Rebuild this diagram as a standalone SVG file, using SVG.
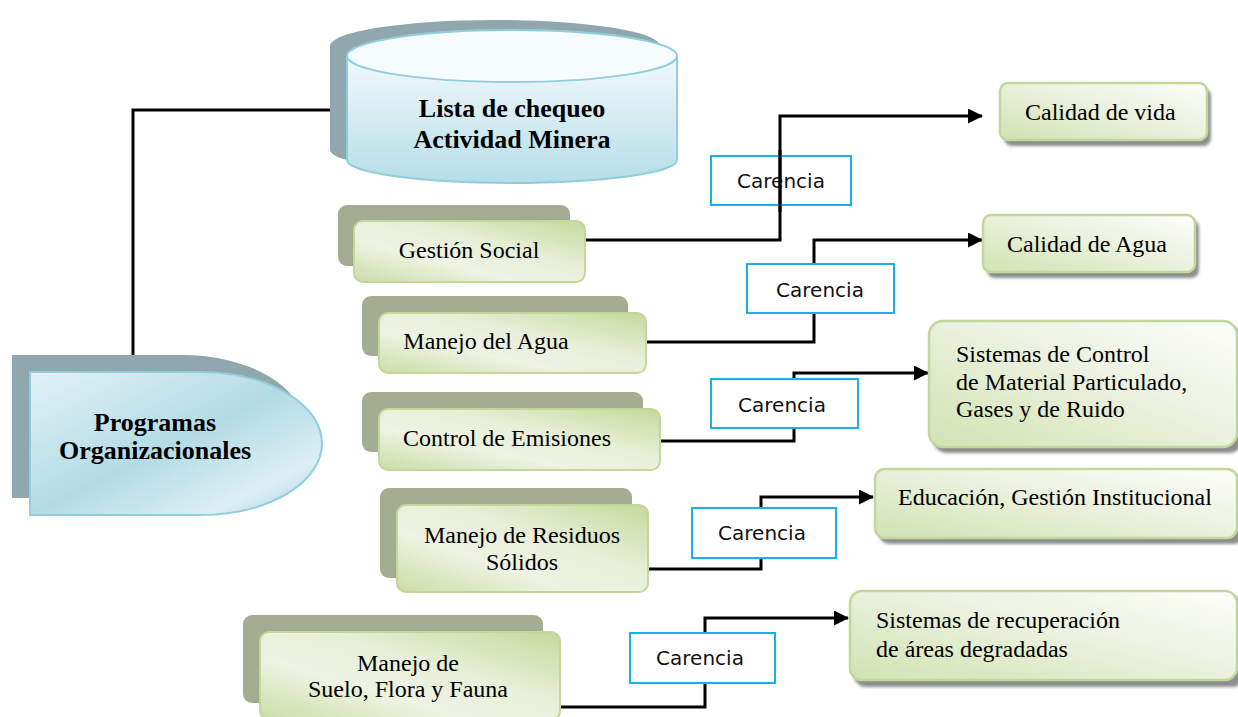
<svg xmlns="http://www.w3.org/2000/svg" width="1238" height="717" viewBox="0 0 1238 717">
<defs>
<style>
.serif{font-family:"Liberation Serif","Times New Roman",serif;font-size:24px;fill:#000}
.bold{font-weight:bold;font-size:26px}
.car{font-family:"DejaVu Sans","Liberation Sans",sans-serif;font-size:20px;fill:#111}
.conn{fill:none;stroke:#000;stroke-width:3}
.cbox{stroke:#1AB0EA;stroke-width:2}
.lshadow{fill:#A4AD91}
.lbox{fill:url(#gLeft);stroke:#C3D69B;stroke-width:2}
.rbox{fill:url(#gRight);stroke:#C3D69B;stroke-width:2.5}
.rshadow{fill:#8E8E8E;filter:url(#blur)}
.bshadow{fill:#8FA7AD}
.blue{fill:url(#gBlue);stroke:#92CDDC;stroke-width:2}
</style>
<linearGradient id="gLeft" x1="0" y1="1" x2="1" y2="0">
<stop offset="0" stop-color="#CBDCA6"/>
<stop offset="0.35" stop-color="#EEF3E2"/>
<stop offset="0.6" stop-color="#E8EFD8"/>
<stop offset="1" stop-color="#C5D99A"/>
</linearGradient>
<linearGradient id="gRight" x1="0" y1="1" x2="1" y2="0">
<stop offset="0" stop-color="#D2E2B2"/>
<stop offset="0.6" stop-color="#EEF3E3"/>
<stop offset="1" stop-color="#FCFDF9"/>
</linearGradient>
<linearGradient id="gBlue" x1="0" y1="0" x2="0" y2="1">
<stop offset="0" stop-color="#FFFFFF"/>
<stop offset="1" stop-color="#B5DDE7"/>
</linearGradient>
<linearGradient id="gBlue2" x1="0" y1="0" x2="1" y2="1">
<stop offset="0" stop-color="#E2F1F7"/>
<stop offset="0.5" stop-color="#B3DBE6"/>
<stop offset="0.8" stop-color="#DCEEF4"/>
<stop offset="1" stop-color="#A9D5E2"/>
</linearGradient>
<filter id="blur" x="-10%" y="-10%" width="120%" height="130%">
<feGaussianBlur stdDeviation="1.5"/>
</filter>
<marker id="arr" markerUnits="userSpaceOnUse" markerWidth="15" markerHeight="15" viewBox="0 0 15 15" refX="14" refY="7.5" orient="auto">
<path d="M0,0 L15,7.5 L0,15 Z" fill="#000"/>
</marker>
</defs>
<rect width="1238" height="717" fill="#fff"/>

<g id="connectors">
<polyline class="conn" points="133,355 133,110 338,110"/>
<polyline class="conn" points="586,240 780,240 780,116 982,116" marker-end="url(#arr)"/>
<polyline class="conn" points="646,342 814,342 814,240 982,240" marker-end="url(#arr)"/>
<polyline class="conn" points="660,441 794,441 794,373 928,373" marker-end="url(#arr)"/>
<polyline class="conn" points="648,569 761,569 761,497 873,497" marker-end="url(#arr)"/>
<polyline class="conn" points="558,707 705,707 705,618 848,618" marker-end="url(#arr)"/>
</g>

<g id="carencia1">
<rect class="cbox" x="711" y="156" width="140" height="49" fill="none"/>
<text class="car" x="781" y="188" text-anchor="middle">Carencia</text>
<line x1="780" y1="150" x2="780" y2="212" stroke="#000" stroke-width="3"/>
</g>
<g id="carencia2">
<rect class="cbox" x="747" y="264" width="147" height="49" fill="#fff"/>
<text class="car" x="820" y="297" text-anchor="middle">Carencia</text>
</g>
<g id="carencia3">
<rect class="cbox" x="711" y="379" width="147" height="49" fill="#fff"/>
<text class="car" x="782" y="412" text-anchor="middle">Carencia</text>
</g>
<g id="carencia4">
<rect class="cbox" x="692" y="508" width="144" height="50" fill="#fff"/>
<text class="car" x="762" y="540" text-anchor="middle">Carencia</text>
</g>
<g id="carencia5">
<rect class="cbox" x="630" y="633" width="145" height="50" fill="#fff"/>
<text class="car" x="700" y="665" text-anchor="middle">Carencia</text>
</g>

<g id="lista">
<path class="bshadow" d="M330,46 A165,26 0 0 1 660,46 L660,150 A165,23 0 0 1 330,150 Z"/>
<path class="blue" d="M347,56 A165,26 0 0 1 677,56 L677,160 A165,23 0 0 1 347,160 Z"/>
<ellipse cx="512" cy="56" rx="165" ry="26" fill="#F6FBFD" stroke="#92CDDC" stroke-width="2"/>
<text class="serif bold" x="512" y="117" text-anchor="middle">Lista de chequeo</text>
<text class="serif bold" x="512" y="148" text-anchor="middle">Actividad Minera</text>
</g>

<g id="programas">
<path class="bshadow" d="M12,355 H182 A122,71.5 0 0 1 182,498 H12 Z"/>
<path d="M30,372 H200 A122,71.5 0 0 1 200,515 H30 Z" fill="url(#gBlue2)" stroke="#92CDDC" stroke-width="2"/>
<text class="serif bold" x="155" y="431" text-anchor="middle">Programas</text>
<text class="serif bold" x="155" y="459" text-anchor="middle">Organizacionales</text>
</g>

<g id="gestion">
<rect class="lshadow" x="338" y="205" width="232" height="61" rx="9"/>
<rect class="lbox" x="354" y="221" width="231" height="61" rx="9"/>
<text class="serif" x="469" y="258" text-anchor="middle">Gestión Social</text>
</g>
<g id="agua">
<rect class="lshadow" x="362" y="296" width="266" height="60" rx="9"/>
<rect class="lbox" x="379" y="313" width="267" height="60" rx="9"/>
<text class="serif" x="486" y="349" text-anchor="middle">Manejo del Agua</text>
</g>
<g id="emisiones">
<rect class="lshadow" x="362" y="392" width="281" height="60" rx="9"/>
<rect class="lbox" x="379" y="409" width="281" height="61" rx="9"/>
<text class="serif" x="507" y="446" text-anchor="middle">Control de Emisiones</text>
</g>
<g id="residuos">
<rect class="lshadow" x="380" y="488" width="252" height="90" rx="9"/>
<rect class="lbox" x="397" y="505" width="251" height="87" rx="9"/>
<text class="serif" x="522" y="543" text-anchor="middle">Manejo de Residuos</text>
<text class="serif" x="522" y="570" text-anchor="middle">Sólidos</text>
</g>
<g id="suelo">
<rect class="lshadow" x="243" y="615" width="300" height="88" rx="9"/>
<rect class="lbox" x="260" y="632" width="300" height="88" rx="9"/>
<text class="serif" x="408" y="671" text-anchor="middle">Manejo de</text>
<text class="serif" x="408" y="697" text-anchor="middle">Suelo, Flora y Fauna</text>
</g>

<g id="calidadVida">
<rect class="rshadow" x="1004" y="88" width="207" height="58" rx="8"/>
<rect class="rbox" x="1000" y="83" width="207" height="57" rx="8"/>
<text class="serif" x="1025" y="120">Calidad de vida</text>
</g>
<g id="calidadAgua">
<rect class="rshadow" x="987" y="220" width="212" height="58" rx="8"/>
<rect class="rbox" x="983" y="215" width="212" height="57" rx="8"/>
<text class="serif" x="1007" y="252">Calidad de Agua</text>
</g>
<g id="sistemasControl">
<rect class="rshadow" x="933" y="326" width="310" height="127" rx="14"/>
<rect class="rbox" x="929" y="321" width="308" height="126" rx="14"/>
<text class="serif" x="956" y="362">Sistemas de Control</text>
<text class="serif" x="956" y="390">de Material Particulado,</text>
<text class="serif" x="956" y="417">Gases y de Ruido</text>
</g>
<g id="educacion">
<rect class="rshadow" x="879" y="474" width="365" height="70" rx="10"/>
<rect class="rbox" x="875" y="469" width="362" height="69" rx="10"/>
<text class="serif" x="898" y="505">Educación, Gestión Institucional</text>
</g>
<g id="recuperacion">
<rect class="rshadow" x="854" y="596" width="390" height="91" rx="12"/>
<rect class="rbox" x="850" y="591" width="387" height="89" rx="12"/>
<text class="serif" x="876" y="628">Sistemas de recuperación</text>
<text class="serif" x="876" y="657">de áreas degradadas</text>
</g>
</svg>
